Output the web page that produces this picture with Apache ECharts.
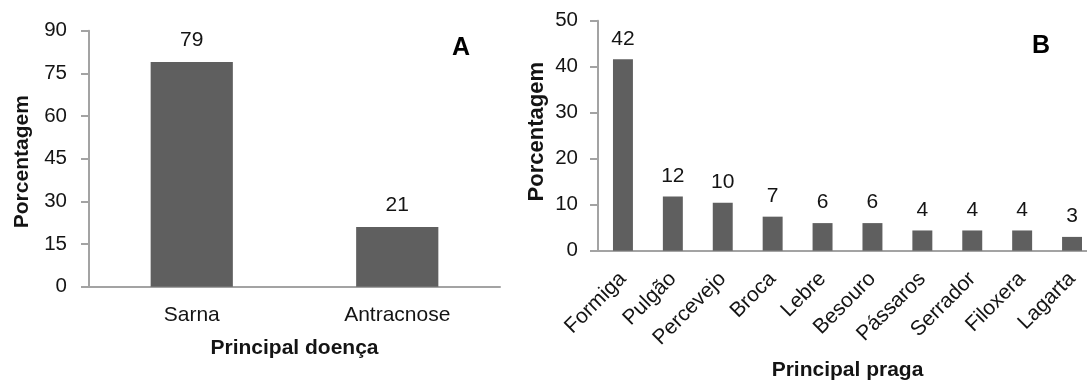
<!DOCTYPE html>
<html>
<head>
<meta charset="utf-8">
<script src="https://cdn.jsdelivr.net/npm/echarts@6/dist/echarts.min.js"></script>
<style>
html,body{margin:0;padding:0;background:#fff;}
#c{width:1087px;height:383px;}
</style>
</head>
<body>
<div id="c"></div>
<script>
// Panel A data
var catsA = ['Sarna', 'Antracnose'];
var valsA = [79, 21];
var ticksA = { min: 0, max: 90, interval: 15 };
// Panel B data
var catsB = ['Formiga', 'Pulgão', 'Percevejo', 'Broca', 'Lebre', 'Besouro', 'Pássaros', 'Serrador', 'Filoxera', 'Lagarta'];
var valsB = [41.6, 11.8, 10.4, 7.4, 6.0, 6.0, 4.4, 4.4, 4.4, 3.0];
var labelsB = [42, 12, 10, 7, 6, 6, 4, 4, 4, 3];
var ticksB = { min: 0, max: 50, interval: 10 };

var FONT = "'Liberation Sans', Arial, sans-serif";
var TXT = '#141414';
var AX = '#a3a3a3';
var BAR = '#5f5f5f';

var chart = echarts.init(document.getElementById('c'), null, { renderer: 'canvas' });

function yAxis(idx, t, gap, pad) {
  return {
    type: 'value', gridIndex: idx, min: t.min, max: t.max, interval: t.interval,
    name: 'Porcentagem', nameLocation: 'middle', nameGap: gap,
    nameTextStyle: { fontFamily: FONT, fontWeight: 'bold', fontSize: idx === 0 ? 21 : 22, color: TXT, padding: pad },
    axisLine: { show: true, lineStyle: { color: AX, width: 2 } },
    axisTick: { show: true, length: 8, lineStyle: { color: AX, width: 2 } },
    axisLabel: { fontFamily: FONT, fontSize: 20.5, color: TXT, margin: idx === 0 ? 22 : 20 },
    splitLine: { show: false }
  };
}

chart.setOption({
  animation: false,
  backgroundColor: '#fff',
  grid: [
    { left: 89, right: 587, top: 30.7, bottom: 96.3, containLabel: false, outerBoundsMode: 'none' },
    { left: 598, right: -10, top: 20.7, bottom: 132.3, containLabel: false, outerBoundsMode: 'none' }
  ],
  xAxis: [
    {
      type: 'category', gridIndex: 0, data: catsA,
      name: 'Principal doença', nameLocation: 'middle', nameGap: 51,
      nameTextStyle: { fontFamily: FONT, fontWeight: 'bold', fontSize: 21, color: TXT },
      axisLine: { lineStyle: { color: AX, width: 2 } },
      axisTick: { show: false },
      axisLabel: { fontFamily: FONT, fontSize: 21, color: TXT, margin: 18 }
    },
    {
      type: 'category', gridIndex: 1, data: catsB,
      name: 'Principal praga', nameLocation: 'middle', nameGap: 109,
      nameTextStyle: { fontFamily: FONT, fontWeight: 'bold', fontSize: 21, color: TXT, verticalAlign: 'top' },
      axisLine: { lineStyle: { color: AX, width: 2 } },
      axisTick: { show: false },
      axisLabel: { fontFamily: FONT, fontSize: 21, color: TXT, rotate: 45, margin: 25, interval: 0 }
    }
  ],
  yAxis: [
    yAxis(0, ticksA, 56, [0, 6, 0, 0]),
    yAxis(1, ticksB, 50, [0, 0, 0, 8])
  ],
  series: [
    {
      type: 'bar', xAxisIndex: 0, yAxisIndex: 0, data: valsA, barWidth: '40%',
      itemStyle: { color: BAR },
      label: { show: true, position: 'top', distance: 11, fontFamily: FONT, fontSize: 21, color: TXT }
    },
    {
      type: 'bar', xAxisIndex: 1, yAxisIndex: 1, data: valsB, barWidth: '40%',
      itemStyle: { color: BAR },
      label: { show: true, position: 'top', distance: 10, fontFamily: FONT, fontSize: 21, color: TXT,
        formatter: function (p) { return String(labelsB[p.dataIndex]); } }
    }
  ],
  graphic: [
    { type: 'text', left: 452, top: 36, style: { text: 'A', font: 'bold 25px ' + FONT, fill: '#000' } },
    { type: 'text', left: 1032, top: 34, style: { text: 'B', font: 'bold 25px ' + FONT, fill: '#000' } }
  ]
});
</script>
</body>
</html>
